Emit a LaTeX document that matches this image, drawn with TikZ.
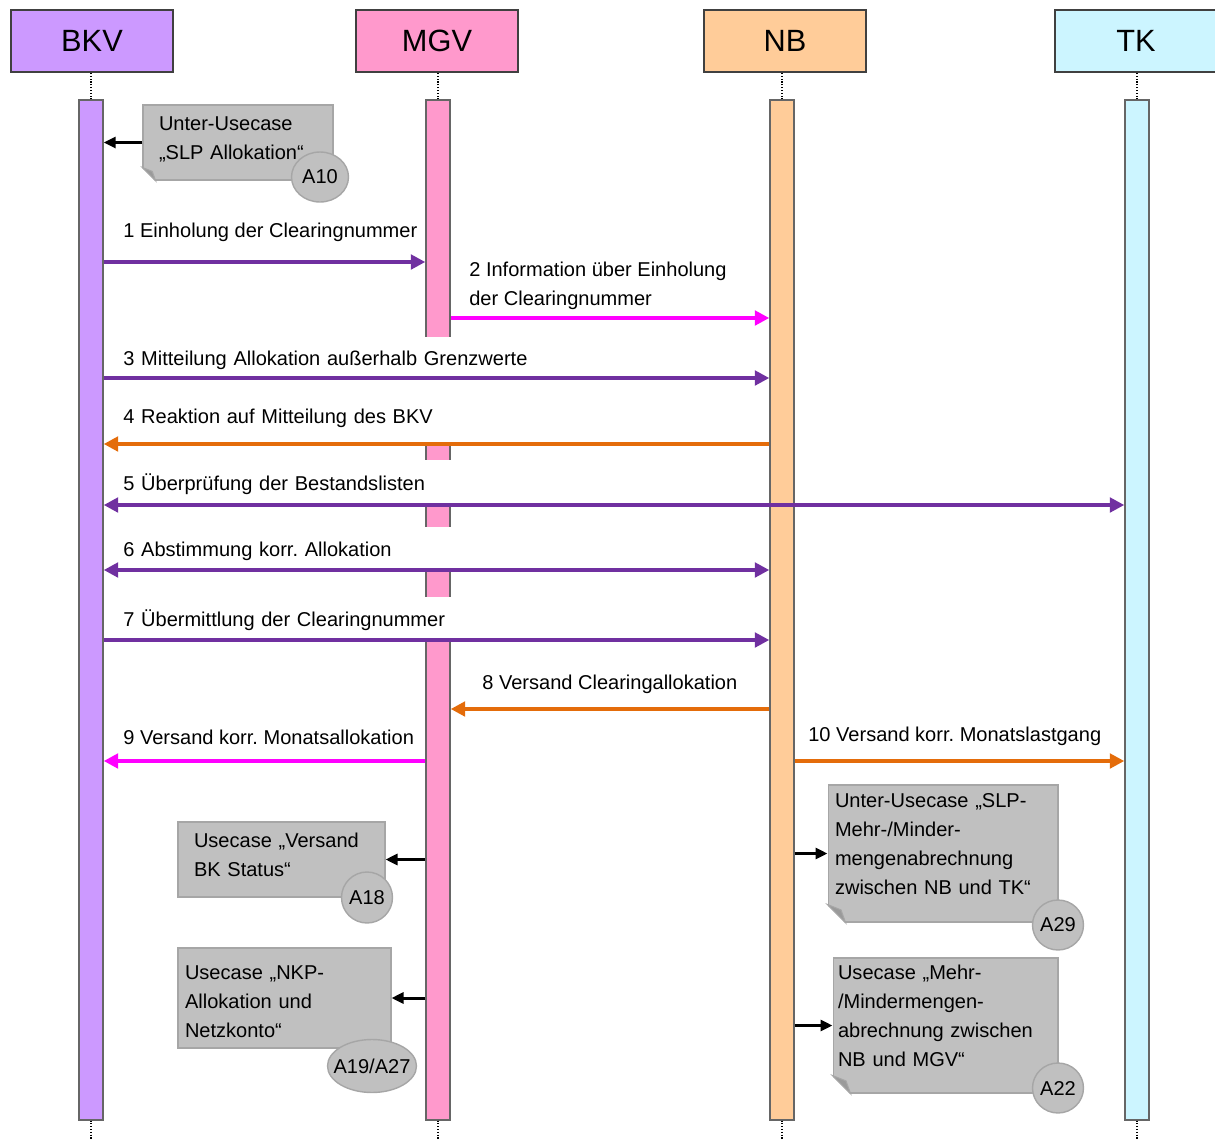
\documentclass[tikz,border=0pt]{standalone}
\usepackage{fontspec}
\setmainfont{Liberation Sans}
\usetikzlibrary{arrows.meta,positioning,calc,shapes.geometric}
\definecolor{BkvLila}{HTML}{CC99FF}
\definecolor{MgvPink}{HTML}{FF99CC}
\definecolor{NbPeach}{HTML}{FFCC99}
\definecolor{TkCyan}{HTML}{CCF5FF}
\definecolor{MsgPurple}{HTML}{7030A0}
\definecolor{MsgMagenta}{HTML}{FF00FF}
\definecolor{MsgOrange}{HTML}{E46C0A}
\definecolor{NoteGray}{HTML}{C0C0C0}
\definecolor{NoteLine}{HTML}{A6A6A6}
\definecolor{FoldGray}{HTML}{9A9A9A}
\definecolor{FrameGray}{HTML}{404040}
\frenchspacing
% folded lower left corner of a note
\newcommand{\notefold}[2]{%
  \fill[white] ([shift={(-1,1)}]#1.south west) -- ++(#2+1,0) -- ++(-#2-1,-#2-1) -- cycle;
  \filldraw[fill=FoldGray,draw=NoteLine,line width=0.6pt] ($(#1.south west)+(0,-#2)$) -- ++(#2,#2) -- ++(-0.25*#2,-0.7*#2) -- cycle;
}

\begin{document}
\begin{tikzpicture}[x=0.02cm,y=-0.02cm,
  every node/.style={font=\fontsize{11.4}{16.5}\selectfont},
  head/.style={draw=FrameGray,line width=1.1pt,minimum width=3.24cm,minimum height=1.24cm,font=\fontsize{17.5}{20}\selectfont},
  bar/.style={draw=FrameGray!80,line width=0.8pt,minimum width=0.48cm,minimum height=20.4cm,inner sep=0pt},
  life/.style={densely dotted,line width=0.6pt},
  msg/.style={line width=2.3pt,-{Triangle[length=0.29cm,width=0.29cm]}},
  msgboth/.style={line width=2.3pt,{Triangle[length=0.29cm,width=0.29cm]}-{Triangle[length=0.29cm,width=0.29cm]}},
  lbl/.style={anchor=west,inner sep=0pt,align=left},
  lblbg/.style 2 args={anchor=base west,fill=white,inner sep=0pt,text width=12.9cm,text height=#1,text depth=#2},
  note/.style={fill=NoteGray,draw=NoteLine,line width=0.6pt,align=left,inner ysep=0pt,text height=0.3cm},
  ref/.style={ellipse,fill=NoteGray,draw=NoteLine,line width=0.8pt,inner sep=0pt},
  usearrow/.style={line width=1.7pt,-{Triangle[length=0.24cm,width=0.22cm]}}]
  \useasboundingbox (0,0) rectangle (1215,1140);

  % participants
  \node[head,fill=BkvLila] (bkv) at (92,41) {BKV};
  \node[head,fill=MgvPink] (mgv) at (437,41) {MGV};
  \node[head,fill=NbPeach] (nb) at (785,41) {NB};
  \node[head,fill=TkCyan] (tk) at (1136,41) {TK};

  \node[bar,fill=BkvLila] (bkvbar) at (91,610) {};
  \node[bar,fill=MgvPink] (mgvbar) at (438,610) {};
  \node[bar,fill=NbPeach] (nbbar) at (782,610) {};
  \node[bar,fill=TkCyan] (tkbar) at (1137,610) {};

  \foreach \n in {bkv,mgv,nb,tk} {
    \draw[life] (\n bar.north) -- (\n bar.north |- \n.south);
    \draw[life] (\n bar.south) -- ++(0,20);
  }

  % message labels
  \node[lbl] (t1) at (123,232) {1 Einholung der Clearingnummer};
  \node[lbl] (t2) at (469,286) {2 Information über Einholung\\der Clearingnummer};
  \node[lblbg={0.56cm}{0.22cm}] (t3) at (123,365) {3 Mitteilung Allokation außerhalb Grenzwerte};
  \node[lblbg={0.86cm}{0.38cm}] (t4) at (123,423) {4 Reaktion auf Mitteilung des BKV};
  \node[lblbg={0.6cm}{0.26cm}] (t5) at (123,490) {5 Überprüfung der Bestandslisten};
  \node[lblbg={0.58cm}{0.24cm}] (t6) at (123,556) {6 Abstimmung korr. Allokation};
  \node[lblbg={0.58cm}{0.24cm}] (t7) at (123,626) {7 Übermittlung der Clearingnummer};
  \node[lbl] (t8) at (482,684) {8 Versand Clearingallokation};
  \node[lbl] (t9) at (123,737) {9 Versand korr. Monatsallokation};
  \node[lbl] (t10) at (808,736) {10 Versand korr. Monatslastgang};

  % messages
  \draw[msg,MsgPurple] (bkvbar.east |- 0,262) -- (mgvbar.west |- 0,262);
  \draw[msg,MsgMagenta] (mgvbar.east |- 0,318) -- (nbbar.west |- 0,318);
  \draw[msg,MsgPurple] (bkvbar.east |- 0,378) -- (nbbar.west |- 0,378);
  \draw[msg,MsgOrange] (nbbar.west |- 0,444) -- (bkvbar.east |- 0,444);
  \draw[msgboth,MsgPurple] (bkvbar.east |- 0,505) -- (tkbar.west |- 0,505);
  \draw[msgboth,MsgPurple] (bkvbar.east |- 0,570) -- (nbbar.west |- 0,570);
  \draw[msg,MsgPurple] (bkvbar.east |- 0,640) -- (nbbar.west |- 0,640);
  \draw[msg,MsgOrange] (nbbar.west |- 0,709) -- (mgvbar.east |- 0,709);
  \draw[msg,MsgMagenta] (mgvbar.west |- 0,761) -- (bkvbar.east |- 0,761);
  \draw[msg,MsgOrange] (nbbar.east |- 0,761) -- (tkbar.west |- 0,761);

  % use cases
  \node[note,minimum height=1.5cm,text width=3.16cm,inner xsep=0.32cm,text depth=0.78cm] (uc10) at (238,142.5) {Unter-Usecase\\„SLP Allokation“};
  \node[note,minimum height=1.5cm,text width=3.5cm,inner xsep=0.32cm,text depth=0.78cm] (uc18) at (281.5,859.5) {Usecase „Versand\\BK Status“};
  \node[note,minimum height=2cm,text width=3.98cm,inner xsep=0.14cm,text depth=1.04cm] (uc19) at (284.5,998) {Usecase „NKP-\\Allokation und\\Netzkonto“};
  \node[note,minimum height=2.74cm,text width=4.32cm,inner xsep=0.14cm,text depth=2.14cm] (uc29) at (943,853.5) {Unter-Usecase „SLP-\\Mehr-/Minder-\\mengenabrechnung\\zwischen NB und TK“};
  \node[note,minimum height=2.7cm,text width=4.3cm,inner xsep=0.1cm,text depth=2.14cm] (uc22) at (945.5,1025.5) {Usecase „Mehr-\\/Mindermengen-\\abrechnung zwischen\\NB und MGV“};
  \notefold{uc10}{13}
  \notefold{uc29}{18}
  \notefold{uc22}{18}

  \draw[usearrow] (uc10) -- (bkvbar.east |- uc10);
  \draw[usearrow] (mgvbar.west |- uc18) -- (uc18);
  \draw[usearrow] (mgvbar.west |- uc19) -- (uc19);
  \draw[usearrow] (nbbar.east |- uc29) -- (uc29);
  \draw[usearrow] (nbbar.east |- uc22) -- (uc22);

  \node[ref,minimum width=1.14cm,minimum height=1cm] (r10) at (320,177) {\makebox[0pt]{A10}};
  \node[ref,minimum width=1.02cm,minimum height=1.02cm] (r18) at (367,897.5) {\makebox[0pt]{A18}};
  \node[ref,minimum width=1.78cm,minimum height=1.06cm] (r19) at (372,1066) {\makebox[0pt]{A19/A27}};
  \node[ref,minimum width=1.02cm,minimum height=1cm] (r29) at (1058,925) {\makebox[0pt]{A29}};
  \node[ref,minimum width=1.02cm,minimum height=1cm] (r22) at (1058,1088) {\makebox[0pt]{A22}};
\end{tikzpicture}
\end{document}
